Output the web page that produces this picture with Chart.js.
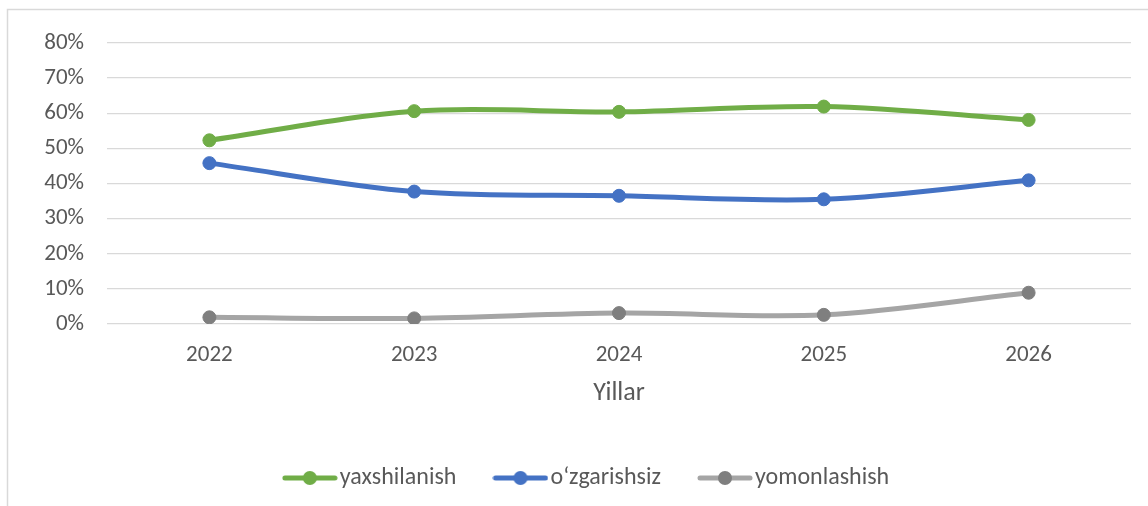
<!DOCTYPE html>
<html lang="uz">
<head>
  <meta charset="UTF-8" />
  <title>Yillar bo'yicha o'zgarish</title>
  <style>
    * { margin: 0; padding: 0; box-sizing: border-box; }
    body { background: #ffffff; }
    #wrap { width: 1148px; height: 506px; position: relative; }
  </style>
</head>
<body>
  <div id="wrap">
    <canvas id="lineChart"></canvas>
  </div>

  <script src="https://cdn.jsdelivr.net/npm/chart.js"></script>
  <script>
    // data
    const years = ['2022', '2023', '2024', '2025', '2026'];
    const yaxshilanish = [52.3, 60.6, 60.4, 61.9, 58.1];
    const ozgarishsiz = [45.8, 37.7, 36.5, 35.5, 40.9];
    const yomonlashish = [1.9, 1.6, 3.1, 2.6, 8.9];
    const yTicks = [0, 10, 20, 30, 40, 50, 60, 70, 80];

    const textColor = '#595959';
    const fontFamily = "Carlito, Calibri, Lato, sans-serif";

    // legend icon: short line with a dot in the middle
    function legendIcon(lineColor, dotColor) {
      const c = document.createElement('canvas');
      c.width = 56;
      c.height = 16;
      const g = c.getContext('2d');
      g.strokeStyle = lineColor;
      g.lineWidth = 5;
      g.lineCap = 'round';
      g.beginPath();
      g.moveTo(3, 8);
      g.lineTo(53, 8);
      g.stroke();
      g.fillStyle = dotColor;
      g.beginPath();
      g.arc(28, 8, 7, 0, Math.PI * 2);
      g.fill();
      return c;
    }

    const series = [
      { label: 'yaxshilanish', data: yaxshilanish, line: '#70ad47', dot: '#70ad47' },
      { label: 'o‘zgarishsiz', data: ozgarishsiz, line: '#4472c4', dot: '#4472c4' },
      { label: 'yomonlashish', data: yomonlashish, line: '#a5a5a5', dot: '#7f7f7f' }
    ];

    const frame = {
      id: 'frame',
      afterLayout(chart) {
        // legend sits a bit right of centre in the original
        chart.legend.left += 25;
        chart.legend.right += 25;
      },
      beforeDraw(chart) {
        const c = chart.ctx;
        c.save();
        c.strokeStyle = '#d9d9d9';
        c.lineWidth = 1.5;
        c.strokeRect(7.5, 9.5, 3000, 3000);
        c.restore();
      }
    };

    new Chart(document.getElementById('lineChart'), {
      type: 'line',
      data: {
        labels: years,
        datasets: series.map(s => ({
          label: s.label,
          data: s.data,
          borderColor: s.line,
          backgroundColor: s.dot,
          borderWidth: 5,
          pointRadius: 6.5,
          pointBorderWidth: 1,
          pointBackgroundColor: s.dot,
          pointBorderColor: s.dot,
          tension: 0.33,
          fill: false,
          legendIcon: legendIcon(s.line, s.dot)
        }))
      },
      options: {
        responsive: true,
        maintainAspectRatio: false,
        animation: false,
        layout: { padding: { left: 0, right: 17, top: 43, bottom: 6 } },
        scales: {
          x: {
            offset: true,
            grid: { display: false, drawTicks: false },
            border: { display: false },
            ticks: { color: textColor, font: { family: fontFamily, size: 23 }, padding: 17 },
            title: {
              display: true,
              text: 'Yillar',
              color: textColor,
              font: { family: fontFamily, size: 26 },
              padding: { top: 0, bottom: 11 }
            },
            afterFit(scale) { scale.height = 96; }
          },
          y: {
            min: 0,
            max: 80,
            afterBuildTicks(scale) { scale.ticks = yTicks.map(v => ({ value: v })); },
            grid: { color: '#d9d9d9', lineWidth: 1.3, drawTicks: false },
            border: { display: false },
            ticks: {
              color: textColor,
              font: { family: fontFamily, size: 23 },
              padding: 23,
              callback: v => v + '%'
            },
            afterFit(scale) { scale.width = 107; }
          }
        },
        plugins: {
          legend: {
            position: 'bottom',
            labels: {
              usePointStyle: true,
              pointStyleWidth: 36,
              padding: 46,
              color: textColor,
              font: { family: fontFamily, size: 24 },
              generateLabels(chart) {
                const items = Chart.defaults.plugins.legend.labels.generateLabels(chart);
                items.forEach(it => {
                  it.pointStyle = chart.data.datasets[it.datasetIndex].legendIcon;
                });
                return items;
              }
            }
          },
          tooltip: { enabled: false }
        }
      },
      plugins: [frame]
    });
  </script>
</body>
</html>
